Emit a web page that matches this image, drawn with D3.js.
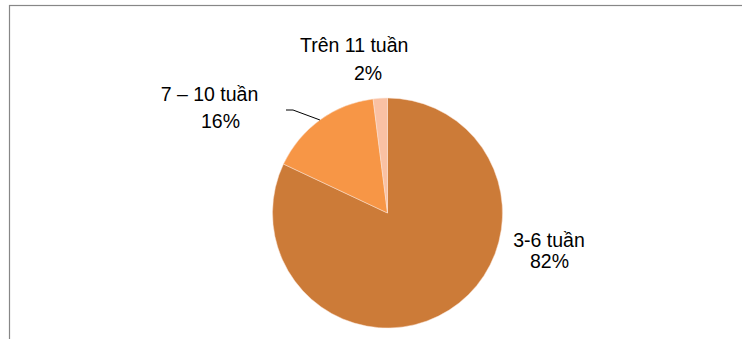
<!DOCTYPE html>
<html>
<head>
<meta charset="utf-8">
<script src="https://cdn.jsdelivr.net/npm/d3@7"></script>
<style>
  html, body { margin: 0; padding: 0; background: #fff; }
  svg { display: block; }
  text { font-family: Arial, "Liberation Sans", sans-serif; font-size: 19.5px; fill: #000; }
</style>
</head>
<body>
<svg id="chart" width="742" height="339"></svg>
<script>
// Thời gian (tuần) – phân bố theo nhóm
const categories = ["3-6 tuần", "7 – 10 tuần", "Trên 11 tuần"];
const values = [82, 16, 2];
const colors = ["#CC7B38", "#F79646", "#FAC1A3"];

const width = 742, height = 339;
const cx = 387.5, cy = 213, radius = 115;

const svg = d3.select("#chart");

// chart area frame
svg.append("rect")
  .attr("x", 9.5).attr("y", 5.5)
  .attr("width", width + 20).attr("height", height + 20)
  .attr("fill", "none")
  .attr("stroke", "#878787")
  .attr("stroke-width", 1.2);

const pie = d3.pie().sort(null).value(d => d.value);
const data = categories.map((c, i) => ({ name: c, value: values[i], color: colors[i] }));
const arcs = pie(data);

const arc = d3.arc().innerRadius(0).outerRadius(radius);
const edgeArc = d3.arc().innerRadius(radius).outerRadius(radius);

const g = svg.append("g").attr("transform", `translate(${cx},${cy})`);

g.selectAll("path.slice")
  .data(arcs)
  .join("path")
  .attr("class", "slice")
  .attr("d", arc)
  .attr("fill", d => d.data.color)
  .attr("stroke", "#FBE3D4")
  .attr("stroke-width", 0.5);

// label placement (offsets from the pie centre), per category
const labelLayout = {
  "3-6 tuần":     { name: [161.5, 34], pct: [162, 55] },
  "7 – 10 tuần":  { name: [-178, -112.3], pct: [-167, -85], leader: [-101.5, -103, -94.5, -103] },
  "Trên 11 tuần": { name: [-33.3, -161], pct: [-19.5, -133] }
};

arcs.forEach(d => {
  const L = labelLayout[d.data.name];
  const pct = Math.round(d.value / d3.sum(values) * 100) + "%";
  g.append("text")
    .attr("x", L.name[0]).attr("y", L.name[1])
    .attr("text-anchor", "middle")
    .text(d.data.name);
  g.append("text")
    .attr("x", L.pct[0]).attr("y", L.pct[1])
    .attr("text-anchor", "middle")
    .text(pct);
  if (L.leader) {
    const [ex, ey] = edgeArc.centroid(d);
    g.append("polyline")
      .attr("points", [[L.leader[0], L.leader[1]], [L.leader[2], L.leader[3]], [ex, ey]].map(p => p.join(",")).join(" "))
      .attr("fill", "none")
      .attr("stroke", "#000")
      .attr("stroke-width", 1);
  }
});
</script>
</body>
</html>
